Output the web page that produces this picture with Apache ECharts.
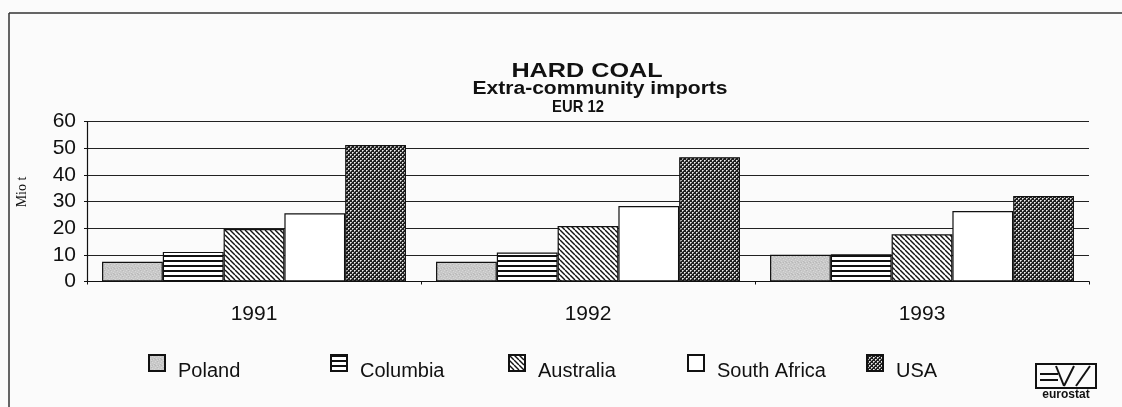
<!DOCTYPE html>
<html>
<head>
<meta charset="utf-8">
<script src="https://cdn.jsdelivr.net/npm/echarts@6/dist/echarts.min.js"></script>
<style>
html,body{margin:0;padding:0;background:#fbfbfb;}
#chart{width:1122px;height:407px;}
</style>
</head>
<body>
<div id="chart"></div>
<script>
const years = ['1991', '1992', '1993'];
const seriesNames = ['Poland', 'Columbia', 'Australia', 'South Africa', 'USA'];
const poland = [7.4, 7.4, 10.0];
const columbia = [11.1, 10.9, 10.2];
const australia = [19.7, 20.8, 17.7];
const southAfrica = [25.6, 28.3, 26.4];
const usa = [51.2, 46.6, 32.1];
const yTickValues = [0, 10, 20, 30, 40, 50, 60];

function makeCanvas(w, h, draw) {
  const c = document.createElement('canvas');
  c.width = w; c.height = h;
  const ctx = c.getContext('2d');
  draw(ctx, w, h);
  return c;
}
// light grey mottled
const greyPat = makeCanvas(6, 6, (ctx, w, h) => {
  ctx.fillStyle = '#c8c8c8'; ctx.fillRect(0, 0, w, h);
  ctx.fillStyle = '#d8d8d8';
  [[0,0],[3,1],[1,3],[4,4],[2,5],[5,2]].forEach(p => ctx.fillRect(p[0], p[1], 1, 1));
  ctx.fillStyle = '#b8b8b8';
  [[2,0],[5,3],[0,4],[3,4]].forEach(p => ctx.fillRect(p[0], p[1], 1, 1));
});
// horizontal stripes
const hStripes = makeCanvas(8, 5, (ctx, w, h) => {
  ctx.fillStyle = '#ffffff'; ctx.fillRect(0, 0, w, h);
  ctx.fillStyle = '#111111'; ctx.fillRect(0, 0, w, 2);
});
// diagonal "\" lines
const dStripes = makeCanvas(5, 5, (ctx, w, h) => {
  ctx.fillStyle = '#ffffff'; ctx.fillRect(0, 0, w, h);
  ctx.strokeStyle = '#111111'; ctx.lineWidth = 1.4;
  for (let o = -5; o <= 5; o += 5) {
    ctx.beginPath(); ctx.moveTo(o, 0); ctx.lineTo(o + 5, 5); ctx.stroke();
  }
});
// dark checker dots
const checker = makeCanvas(4, 4, (ctx, w, h) => {
  ctx.fillStyle = '#202020'; ctx.fillRect(0, 0, w, h);
  ctx.fillStyle = '#f0f0f0';
  ctx.fillRect(0, 0, 1, 1); ctx.fillRect(2, 2, 1, 1);
  ctx.fillStyle = '#aaaaaa';
  [[1,0],[3,2],[0,1],[2,3]].forEach(p => ctx.fillRect(p[0], p[1], 1, 1));
});

const fills = [
  { image: greyPat, repeat: 'repeat' },
  { image: hStripes, repeat: 'repeat' },
  { image: dStripes, repeat: 'repeat' },
  '#ffffff',
  { image: checker, repeat: 'repeat' }
];
const values = [poland, columbia, australia, southAfrica, usa];
const legendLefts = [148, 330, 508, 687, 866];

const chart = echarts.init(document.getElementById('chart'), null, { renderer: 'canvas' });

const series = seriesNames.map((name, i) => ({
  name: name,
  type: 'bar',
  data: values[i],
  barGap: '0%',
  barCategoryGap: '9%',
  itemStyle: { color: fills[i], borderColor: '#111', borderWidth: 1.2 },
  emphasis: { disabled: true },
  animation: false
}));

const legends = seriesNames.map((name, i) => ({
  data: [name],
  left: legendLefts[i],
  top: 345,
  padding: 0,
  icon: 'rect',
  itemWidth: 16,
  itemHeight: 16,
  selectedMode: false,
  formatter: '{t|{name}}',
  textStyle: {
    rich: {
      t: { fontFamily: 'Liberation Sans', fontSize: 20, color: '#111', padding: [16, 0, 0, 8], lineHeight: 22 }
    }
  }
}));

const option = {
  backgroundColor: '#fbfbfb',
  animation: false,
  grid: { left: 87, right: 33, top: 121.5, bottom: 125.5 },
  legend: legends,
  xAxis: {
    type: 'category',
    data: years,
    axisLine: { lineStyle: { color: '#111', width: 1.2 } },
    axisTick: { show: true, length: 3, lineStyle: { color: '#111' } },
    axisLabel: { fontFamily: 'Liberation Sans', fontSize: 21, color: '#111', margin: 22 }
  },
  yAxis: {
    type: 'value',
    min: yTickValues[0],
    max: yTickValues[yTickValues.length - 1],
    interval: yTickValues[1] - yTickValues[0],
    axisLine: { show: true, lineStyle: { color: '#111', width: 1.2 } },
    axisTick: { show: true, length: 3, lineStyle: { color: '#111' } },
    splitLine: { lineStyle: { color: '#222', width: 1.2 } },
    axisLabel: { fontFamily: 'Liberation Sans', fontSize: 21, color: '#111', margin: 11 }
  },
  series: series,
  graphic: [
    { type: 'line', shape: { x1: 9, y1: 13, x2: 1122, y2: 13 }, style: { stroke: '#333', lineWidth: 1.5 } },
    { type: 'line', shape: { x1: 9, y1: 13, x2: 9, y2: 407 }, style: { stroke: '#333', lineWidth: 1.5 } },
    { type: 'text', x: 587, y: 71, scaleX: 1.2, style: { text: 'HARD COAL', font: 'bold 21px "Liberation Sans"', fill: '#111', textAlign: 'center', textVerticalAlign: 'middle' } },
    { type: 'text', x: 600, y: 89, scaleX: 1.17, style: { text: 'Extra-community imports', font: 'bold 18px "Liberation Sans"', fill: '#111', textAlign: 'center', textVerticalAlign: 'middle' } },
    { type: 'text', x: 578, y: 107, scaleX: 0.87, style: { text: 'EUR 12', font: 'bold 17px "Liberation Sans"', fill: '#111', textAlign: 'center', textVerticalAlign: 'middle' } },
    { type: 'text', x: 22, y: 192, rotation: Math.PI / 2, style: { text: 'Mio t', font: '14px "Liberation Serif"', fill: '#111', textAlign: 'center', textVerticalAlign: 'middle' } },
    // eurostat logo
    { type: 'rect', shape: { x: 1036, y: 364, width: 60, height: 24 }, style: { fill: 'none', stroke: '#111', lineWidth: 2 } },
    { type: 'line', shape: { x1: 1040, y1: 374, x2: 1058, y2: 374 }, style: { stroke: '#111', lineWidth: 2 } },
    { type: 'line', shape: { x1: 1040, y1: 380, x2: 1058, y2: 380 }, style: { stroke: '#111', lineWidth: 2 } },
    { type: 'line', shape: { x1: 1056, y1: 366, x2: 1064, y2: 386 }, style: { stroke: '#111', lineWidth: 2 } },
    { type: 'line', shape: { x1: 1064, y1: 386, x2: 1074, y2: 366 }, style: { stroke: '#111', lineWidth: 2 } },
    { type: 'line', shape: { x1: 1076, y1: 386, x2: 1090, y2: 366 }, style: { stroke: '#111', lineWidth: 2 } },
    { type: 'text', x: 1066, y: 395, style: { text: 'eurostat', font: 'bold 12px "Liberation Sans"', fill: '#111', textAlign: 'center', textVerticalAlign: 'middle' } }
  ]
};
chart.setOption(option);
</script>
</body>
</html>
